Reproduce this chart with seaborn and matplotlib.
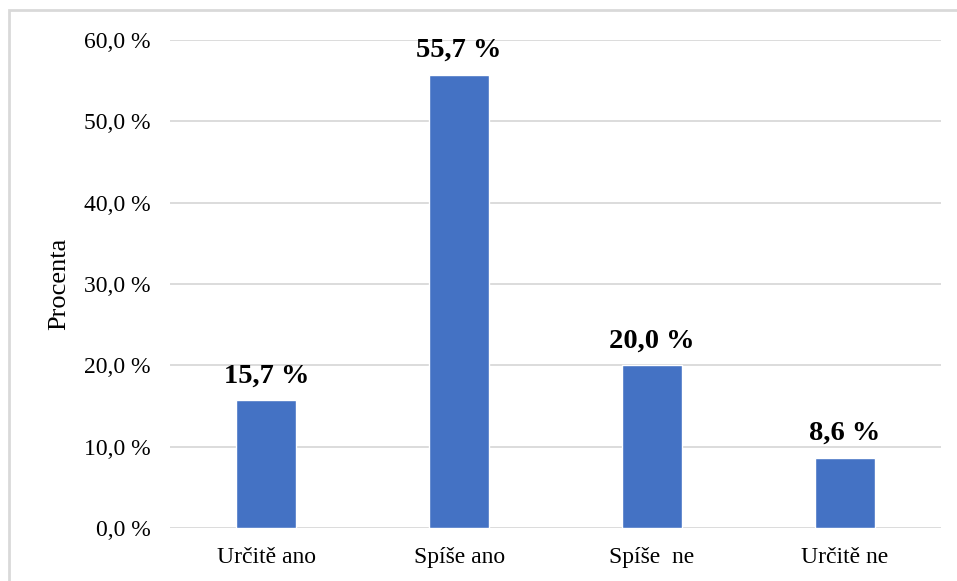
import matplotlib
matplotlib.use('Agg')
import matplotlib.pyplot as plt
import seaborn as sns
import pandas as pd
from matplotlib.patches import Rectangle

# --- Data ---
categories = ['Určitě ano', 'Spíše ano', 'Spíše  ne', 'Určitě ne']
values = [15.7, 55.7, 20.0, 8.6]
y_ticks = [0, 10, 20, 30, 40, 50, 60]

df = pd.DataFrame({'Odpoved': categories, 'Procenta': values})

sns.set_theme(style='white')
plt.rcParams['font.family'] = ['Liberation Serif', 'DejaVu Serif']

fig = plt.figure(figsize=(9.57, 5.81), dpi=100)
ax = fig.add_axes([0.1776, 0.0912, 0.8057, 0.84])

sns.barplot(data=df, x='Odpoved', y='Procenta', color='#4472C4', width=0.31,
            saturation=1, ax=ax, zorder=3)

ax.set_xlim(-0.5, 3.5)
ax.set_ylim(0, 60)
ax.set_yticks(y_ticks)
ax.set_yticklabels([f'{t:.1f} %'.replace('.', ',') for t in y_ticks], fontsize=17, color='#000000')
ax.tick_params(axis='y', length=0, pad=14)
ax.tick_params(axis='x', length=0, pad=14, labelsize=17, labelcolor='#000000')
ax.yaxis.grid(True, color='#d9d9d9', linewidth=1.3, zorder=0)
ax.set_axisbelow(True)
for s in ax.spines.values():
    s.set_visible(False)

ax.set_xlabel('')
ax.set_ylabel('Procenta', fontsize=19, color='#000000')
ax.yaxis.set_label_coords(-0.130, 0.5)

# value labels above bars
for i, v in enumerate(values):
    ax.text(i, v + 2.2, f'{v:.1f} %'.replace('.', ','), ha='center', va='baseline',
            fontsize=20.5, fontweight='bold', color='#000000')

# light frame around the chart
fig.patches.append(Rectangle((9 / 957, -0.01), 1.0, 1 - 10 / 581 + 0.01,
                             transform=fig.transFigure, fill=False,
                             edgecolor='#d9d9d9', linewidth=2))

fig.savefig('out.png', dpi=100)
